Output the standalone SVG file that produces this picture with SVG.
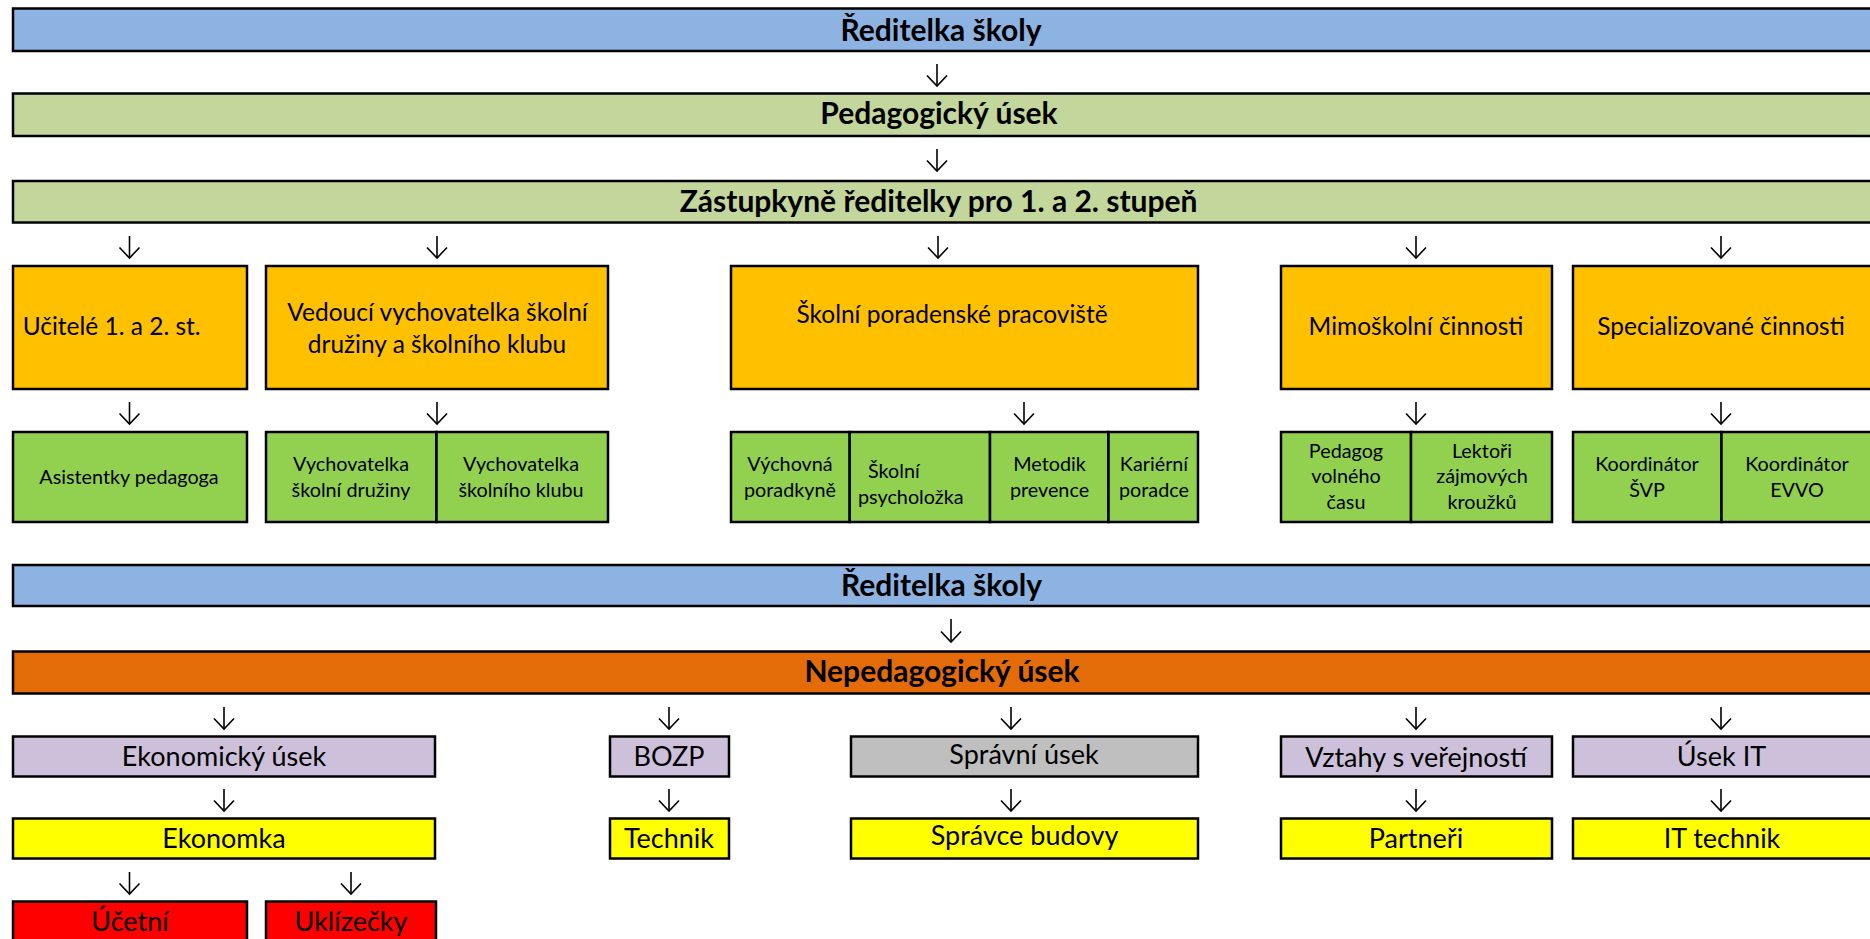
<svg xmlns="http://www.w3.org/2000/svg" width="1870" height="939" viewBox="0 0 1870 939">
<style>
  .box { stroke: #000; stroke-width: 2.5; }
  .blue { fill: #8DB3E2; }
  .lgreen { fill: #C3D69B; }
  .orange { fill: #FFC000; }
  .green { fill: #92D050; }
  .dorange { fill: #E36C09; }
  .lav { fill: #CCC0DA; }
  .gray { fill: #BFBFBF; }
  .yellow { fill: #FFFF00; }
  .red { fill: #FF0000; }
  text { font-family: Lato, "Liberation Sans", sans-serif; fill: #000; text-anchor: middle; }
  .h { font-weight: bold; font-size: 30px; }
  .o { font-size: 24.5px; }
  .n { font-size: 27px; }
  .g { font-size: 19.8px; }
  .conn line { stroke: #000; stroke-width: 1.6; marker-end: url(#arr); }
</style>
<defs>
  <marker id="arr" viewBox="-12 -11 14 22" refX="0" refY="0" markerWidth="14" markerHeight="22" markerUnits="userSpaceOnUse" orient="auto" overflow="visible">
    <path d="M -10.5 -10 L 0 0 L -10.5 10" fill="none" stroke="#000" stroke-width="1.6"/>
  </marker>
</defs>

<g id="reditelka1"><rect class="box blue" x="13" y="8.5" width="1880" height="42.5"/><text class="h" x="941" y="40.5">Ředitelka školy</text></g>
<g id="pedagogicky"><rect class="box lgreen" x="13" y="93.5" width="1880" height="42.5"/><text class="h" x="939" y="124">Pedagogický úsek</text></g>
<g id="zastupkyne"><rect class="box lgreen" x="13" y="181" width="1880" height="41.5"/><text class="h" x="938.6" y="212">Zástupkyně ředitelky pro 1. a 2. stupeň</text></g>

<g id="ucitele"><rect class="box orange" x="13" y="266" width="234" height="123"/><text class="o" x="22.7" y="335" style="text-anchor:start">Učitelé 1. a 2. st.</text></g>
<g id="vedouci"><rect class="box orange" x="266" y="266" width="342" height="123"/><text class="o" x="437.5" y="320.5">Vedoucí vychovatelka školní</text><text class="o" x="437" y="353">družiny a školního klubu</text></g>
<g id="skolni-poradenske"><rect class="box orange" x="731" y="266" width="467" height="123"/><text class="o" x="952" y="322.5">Školní poradenské pracoviště</text></g>
<g id="mimoskolni"><rect class="box orange" x="1281" y="266" width="271" height="123"/><text class="o" x="1416" y="335">Mimoškolní činnosti</text></g>
<g id="specializovane"><rect class="box orange" x="1573" y="266" width="310" height="123"/><text class="o" x="1721" y="335">Specializované činnosti</text></g>

<g id="asistentky"><rect class="box green" x="13" y="432" width="234" height="90"/><text class="g" x="129" y="484">Asistentky pedagoga</text></g>
<g id="vych-druziny"><rect class="box green" x="266" y="432" width="170.5" height="90"/><text class="g" x="351" y="471">Vychovatelka</text><text class="g" x="351" y="497">školní družiny</text></g>
<g id="vych-klubu"><rect class="box green" x="436.5" y="432" width="171.5" height="90"/><text class="g" x="521" y="471">Vychovatelka</text><text class="g" x="521" y="497">školního klubu</text></g>
<g id="vychovna"><rect class="box green" x="731" y="432" width="118.7" height="90"/><text class="g" x="790" y="471">Výchovná</text><text class="g" x="790" y="497">poradkyně</text></g>
<g id="psycholozka"><rect class="box green" x="849.7" y="432" width="140.3" height="90"/><text class="g" x="868" y="478" style="text-anchor:start">Školní</text><text class="g" x="858" y="504" style="text-anchor:start">psycholožka</text></g>
<g id="metodik"><rect class="box green" x="990" y="432" width="118.5" height="90"/><text class="g" x="1049.5" y="471">Metodik</text><text class="g" x="1049.5" y="497">prevence</text></g>
<g id="karierni"><rect class="box green" x="1108.5" y="432" width="89.5" height="90"/><text class="g" x="1154" y="471">Kariérní</text><text class="g" x="1154" y="497">poradce</text></g>
<g id="pedagog-volneho"><rect class="box green" x="1281" y="432" width="130" height="90"/><text class="g" x="1346" y="458">Pedagog</text><text class="g" x="1346" y="483">volného</text><text class="g" x="1346" y="509">času</text></g>
<g id="lektori"><rect class="box green" x="1411" y="432" width="141" height="90"/><text class="g" x="1482" y="458">Lektoři</text><text class="g" x="1482" y="483">zájmových</text><text class="g" x="1482" y="509">kroužků</text></g>
<g id="koord-svp"><rect class="box green" x="1573" y="432" width="148.5" height="90"/><text class="g" x="1647" y="471">Koordinátor</text><text class="g" x="1647" y="497">ŠVP</text></g>
<g id="koord-evvo"><rect class="box green" x="1721.5" y="432" width="161.5" height="90"/><text class="g" x="1797" y="471">Koordinátor</text><text class="g" x="1797" y="497">EVVO</text></g>

<g id="reditelka2"><rect class="box blue" x="13" y="565" width="1880" height="41"/><text class="h" x="941.5" y="596">Ředitelka školy</text></g>
<g id="nepedagogicky"><rect class="box dorange" x="13" y="651.5" width="1880" height="42"/><text class="h" x="942" y="682">Nepedagogický úsek</text></g>

<g id="ekonomicky"><rect class="box lav" x="13" y="736.5" width="422" height="40"/><text class="n" x="224" y="766">Ekonomický úsek</text></g>
<g id="bozp"><rect class="box lav" x="610" y="736.5" width="119" height="40"/><text class="n" x="669" y="766">BOZP</text></g>
<g id="spravni"><rect class="box gray" x="851" y="736.5" width="347" height="40"/><text class="n" x="1024" y="763.5">Správní úsek</text></g>
<g id="vztahy"><rect class="box lav" x="1281" y="736.5" width="271" height="40"/><text class="n" x="1416" y="767">Vztahy s veřejností</text></g>
<g id="usek-it"><rect class="box lav" x="1573" y="736.5" width="310" height="40"/><text class="n" x="1721.5" y="766">Úsek IT</text></g>

<g id="ekonomka"><rect class="box yellow" x="13" y="818.5" width="422" height="40"/><text class="n" x="224" y="848">Ekonomka</text></g>
<g id="technik"><rect class="box yellow" x="610" y="818.5" width="119" height="40"/><text class="n" x="669" y="848">Technik</text></g>
<g id="spravce"><rect class="box yellow" x="851" y="818.5" width="347" height="40"/><text class="n" x="1024.5" y="845">Správce budovy</text></g>
<g id="partneri"><rect class="box yellow" x="1281" y="818.5" width="271" height="40"/><text class="n" x="1416" y="848">Partneři</text></g>
<g id="it-technik"><rect class="box yellow" x="1573" y="818.5" width="310" height="40"/><text class="n" x="1722" y="848">IT technik</text></g>

<g id="ucetni"><rect class="box red" x="13" y="901.5" width="234" height="60"/><text class="n" x="130" y="931">Účetní</text></g>
<g id="uklizecky"><rect class="box red" x="266" y="901.5" width="170" height="60"/><text class="n" x="351" y="931">Uklízečky</text></g>

<g id="connectors" class="conn">
  <line x1="937" y1="64" x2="937" y2="86"/>
  <line x1="937" y1="149" x2="937" y2="171"/>
  <line x1="129.5" y1="236" x2="129.5" y2="258"/>
  <line x1="437" y1="236" x2="437" y2="258"/>
  <line x1="938" y1="236" x2="938" y2="258"/>
  <line x1="1416" y1="236" x2="1416" y2="258"/>
  <line x1="1721" y1="236" x2="1721" y2="258"/>
  <line x1="129.5" y1="402" x2="129.5" y2="424"/>
  <line x1="437" y1="402" x2="437" y2="424"/>
  <line x1="1024" y1="402" x2="1024" y2="424"/>
  <line x1="1416" y1="402" x2="1416" y2="424"/>
  <line x1="1721" y1="402" x2="1721" y2="424"/>
  <line x1="951" y1="619" x2="951" y2="642"/>
  <line x1="224" y1="707" x2="224" y2="729"/>
  <line x1="669" y1="707" x2="669" y2="729"/>
  <line x1="1011" y1="707" x2="1011" y2="729"/>
  <line x1="1416" y1="707" x2="1416" y2="729"/>
  <line x1="1721" y1="707" x2="1721" y2="729"/>
  <line x1="224" y1="789" x2="224" y2="811"/>
  <line x1="669" y1="789" x2="669" y2="811"/>
  <line x1="1011" y1="789" x2="1011" y2="811"/>
  <line x1="1416" y1="789" x2="1416" y2="811"/>
  <line x1="1721" y1="789" x2="1721" y2="811"/>
  <line x1="129.5" y1="872" x2="129.5" y2="894"/>
  <line x1="351" y1="872" x2="351" y2="894"/>
</g>
</svg>
